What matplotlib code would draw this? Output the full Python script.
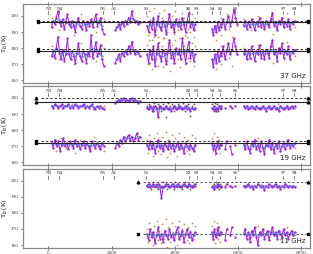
import numpy as np
import pandas as pd
import matplotlib
matplotlib.use("Agg")
import matplotlib.pyplot as plt

# ── station markers along the track ───────────────────────────────────────────
station_names = ["N3", "N4", "N5", "A1", "S1", "S2", "S3", "S4", "S5", "S6", "S7", "S8"]
station_pos = [0, 350, 1720, 2090, 3090, 4440, 4690, 5190, 5440, 5910, 7440, 7780]

# ── segment extents (sample index) ────────────────────────────────────────────
seg_bounds = {
    "A": (100, 1750),
    "B": (2120, 2900),
    "C": (3120, 4650),
    "D": (5180, 5450),
    "D2": (5480, 5980),
    "E": (6180, 7800),
}

nan = np.nan

# ── 37 GHz ────────────────────────────────────────────────────────────────────
tb37_v = {
    "A": [193, 197, 195, 199, 203, 196, 194, 198, 192, 196, 201, 195, 193, 197, 194, 190, 196,
          199, 194, 192, 197, 195, 191, 196, 194, 198, 193, 197, 201, 194, 196, 199, 192, 189],
    "B": [191, 193, 195, 192, 196, 194, 197, 195, 199, 196, 203, 198, 196, 197, 195, 196],
    "C": [194, 190, 197, 192, 199, 188, 195, 200, 193, 191, 197, 194, 189, 196, 201, 193,
          195, 190, 198, 194, 196, 192, 199, 195, 190, 197, 202, 193, 196, 191, 195],
    "D": [192, 188, 194, 190, 196, 191, 195],
    "D2": [193, 198, 192, 196, 200, 194, 197, 204, 199, 195],
    "E": [194, 197, 192, 196, 193, 198, 195, 191, 196, 194, 199, 193, 196, 192, 197, 195, 193,
          198, 202, 194, 196, 191, 197, 195, 199, 193, 196, 194, 198, 192, 196, 195, 197],
}
tb37_h = {
    "A": [175, 178, 174, 180, 187, 177, 173, 179, 172, 176, 186, 176, 173, 178, 175, 171, 177,
          183, 175, 172, 178, 176, 171, 177, 175, 188, 174, 178, 184, 175, 177, 182, 173, 169],
    "B": [171, 173, 176, 172, 177, 175, 178, 176, 181, 177, 184, 179, 176, 178, 177, 175],
    "C": [176, 171, 179, 173, 181, 169, 177, 183, 175, 172, 179, 176, 170, 178, 185, 174,
          177, 171, 180, 176, 178, 173, 186, 177, 171, 179, 184, 174, 178, 172, 176],
    "D": [173, 168, 176, 171, 178, 172, 177],
    "D2": [175, 181, 173, 178, 183, 176, 179, 186, 181, 176],
    "E": [176, 179, 173, 178, 174, 181, 177, 172, 178, 176, 182, 174, 178, 173, 179, 177, 174,
          181, 185, 176, 178, 172, 180, 177, 183, 174, 178, 176, 181, 173, 178, 177, 179],
}
ref37 = {
    "v": {"A": [199, 191, 197, 188, 201, 194, 190, 198],
          "C": [200, 188, 203, 194, 185, 198, 205, 191, 196, 187, 202, 193, 199, 186, 204, 195,
                190, 201, 197, 184, 200, 193, 189, 203, 196, 191, 198, 186, 202, 194, 199, 188,
                205, 192, 197, 190, 201, 195, 187, 199],
          "D": [190, 197, 185, 193, 199],
          "D2": [188, 195, 201, 192, 187, 196, 194],
          "E": [198, 191, 200, 194, 189, 197, 202, 193]},
    "h": {"A": [181, 173, 179, 170, 183, 176, 172, 180],
          "C": [182, 170, 185, 176, 167, 180, 187, 173, 178, 169, 184, 175, 181, 168, 186, 177,
                172, 183, 179, 166, 182, 175, 171, 185, 178, 173, 180, 168, 184, 176, 181, 170,
                187, 174, 179, 172, 183, 177, 169, 181],
          "D": [172, 179, 167, 175, 181],
          "D2": [170, 177, 183, 174, 169, 178, 176],
          "E": [180, 173, 182, 176, 171, 179, 184, 175]},
}

# ── 19 GHz ────────────────────────────────────────────────────────────────────
tb19_v = {
    "A": [195, 194, 196, 195, 194, 195, 196, 194, 195, 195, 196, 194, 195, 194, 196, 195,
          194, 195, 195, 196, 194, 195, 194, 195, 196, 194, 193, 195, 194, 195, 194, 193],
    "B": [197, 198, 199, 198, 199, 200, 198, 199, 198, 199, 200, 198, 199, 198, 197, 198],
    "C": [194, 193, 195, 194, 192, 195, 194, 188, 195, 194, 193, 194, 195, 193, 194, 192,
          194, 195, 193, 194, 195, 194, 193, 194, 195, 193, 194, 192, 194, 193, 194],
    "D": [194, 193, 195, 192, 194, 193, 195, 194],
    "D2": [195, nan, 194, nan, nan, 195, 194, nan, 195, nan],
    "E": [195, 194, 195, 193, 194, 195, 194, 193, 195, 194, 193, 194, 195, 194, 192, 194,
          195, 193, 194, 195, 193, 194, 192, 195, 194, 193, 194, 195, 193, 194, 195, 194, 195],
}
tb19_h = {
    "A": [172, 169, 174, 170, 173, 167, 171, 175, 170, 172, 168, 173, 171, 169, 174, 170,
          172, 168, 171, 173, 169, 172, 170, 167, 173, 171, 169, 172, 170, 168, 172, 170],
    "B": [169, 172, 170, 174, 172, 176, 173, 175, 177, 174, 176, 173, 175, 178, 174, 176],
    "C": [171, 168, 173, 169, 172, 166, 170, 174, 169, 171, 167, 172, 170, 168, 173, 169,
          171, 167, 170, 172, 168, 171, 169, 166, 172, 170, 168, 171, 169, 167, 171],
    "D": [172, 168, 171, 166, 170, 173, 169, 171],
    "D2": [171, nan, 168, 173, nan, 170, 165, nan, 171, nan],
    "E": [171, 168, 173, 169, 166, 172, 170, 174, 168, 171, 167, 173, 169, 165, 171, 170,
          174, 168, 172, 166, 171, 169, 173, 167, 170, 172, 168, 171, 174, 169, 171, 170, 172],
}
ref19 = {
    "v": {"A": [195, 194, 196, 195, 193, 195],
          "C": [195, 193, 196, 194, 192, 195, 197, 194, 193, 196, 195, 192, 194, 196, 193, 188,
                194, 197, 193, 195, 196, 194, 192, 195, 193, 196, 194, 195, 193, 197, 194, 192,
                195, 196, 193, 189, 195, 193, 196, 194],
          "D": [196, 193, 195, 192, 197, 194, 193, 196, 192, 195, 194, 193],
          "E": [195, 194, 196, 194]},
    "h": {"A": [173, 167, 175, 169, 172, 166, 174, 170, 168, 176, 171, 167],
          "C": [174, 166, 177, 169, 172, 164, 175, 170, 178, 167, 173, 165, 176, 171, 168, 179,
                163, 174, 170, 166, 177, 172, 168, 175, 164, 171, 178, 169, 173, 166, 176, 170,
                167, 174, 165, 172, 177, 168, 171, 175],
          "D": [175, 167, 172, 178, 165, 173, 170, 176, 168, 174, 166, 171],
          "E": [173, 168, 175, 170, 172, 167, 174, 169]},
}

# ── 11 GHz ────────────────────────────────────────────────────────────────────
tb11_v = {
    "C": [197, 198, 196, 197, 198, 197, 196, 198, 197, 189, 196, 197, 198, 197, 196, 197,
          198, 196, 197, 198, 197, 196, 197, 198, 197, 196, 198, 197, 196, 197, 198],
    "D": [196, 197, 195, 197, 196, 198, 197, 196],
    "D2": [197, nan, 196, 198, nan, 197, 196, nan, 197, nan],
    "E": [197, 196, 197, 198, 196, 197, 195, 197, 196, 198, 197, 196, 197, 194, 197, 196,
          198, 197, 196, 197, 198, 196, 197, 195, 197, 196, 198, 197, 196, 197, 196, 197, 196],
}
tb11_h = {
    "C": [167, 163, 170, 165, 168, 161, 166, 171, 164, 167, 162, 169, 166, 164, 170, 165,
          167, 163, 168, 171, 164, 166, 169, 162, 167, 170, 165, 168, 163, 166, 168],
    "D": [168, 164, 170, 165, 167, 171, 166, 168],
    "D2": [167, nan, 163, 170, nan, 166, 171, nan, 165, nan],
    "E": [167, 170, 164, 168, 162, 169, 166, 171, 165, 160, 168, 166, 170, 164, 167, 169,
          163, 168, 171, 166, 168, 164, 169, 167, 165, 170, 166, 168, 164, 167, 169, 166, 168],
}
ref11 = {
    "v": {"C": [197, 196, 198, 195, 197, 199, 196, 198, 197, 195, 198, 196, 197, 199, 196, 197,
                195, 198, 197, 196, 198, 197, 195, 199, 196, 198, 197, 196, 195, 198, 197, 199,
                196, 197, 198, 195, 197, 196, 198, 197],
          "D": [197, 196, 198, 195, 197, 199, 196, 198, 197, 195, 198, 196],
          "E": [197, 198, 196, 197]},
    "h": {"C": [170, 162, 174, 165, 168, 160, 172, 166, 175, 163, 169, 161, 173, 167, 164, 176,
                159, 171, 166, 162, 174, 168, 164, 172, 160, 167, 175, 165, 170, 162, 173, 166,
                163, 171, 161, 169, 174, 164, 167, 172],
          "D": [172, 163, 169, 175, 161, 170, 166, 174, 164, 171, 162, 168],
          "E": [170, 165, 172, 167, 169, 164, 171, 166]},
}

# ── reference levels: (solid, dashed) for each polarisation ──────────────────
levels37 = {"v": (196.0, 196.8), "h": (178.0, 179.5)}
levels19 = {"v": (197.6, 199.7), "h": (172.1, 173.1)}
levels11 = {"v": (None, 199.2), "h": (None, 167.0)}

panels = [
    ("37 GHz", tb37_v, tb37_h, ref37, levels37, (-340, 8220), "s"),
    ("19 GHz", tb19_v, tb19_h, ref19, levels19, (-400, 8220), "^"),
    ("11 GHz", tb11_v, tb11_h, ref11, levels11, (2850, 8220), "^"),
]

PURPLE = "#9a1ee6"
BLUE = "#4f8ae8"
BROWN = "#b08440"
DARK_BROWN = "#4a3620"
SERIF = "Liberation Serif"

fig = plt.figure(figsize=(3.13, 2.54), dpi=100)
boxes = [[0.072, 0.673, 0.918, 0.311],
         [0.072, 0.350, 0.918, 0.311],
         [0.072, 0.024, 0.918, 0.311]]

for i, (label, tb_v, tb_h, ref, levels, xends, vmark) in enumerate(panels):
    ax = fig.add_axes(boxes[i])

    # brown reference dots
    for pol, data in ref.items():
        for seg, vals in data.items():
            lo, hi = seg_bounds[seg]
            xs = np.linspace(lo, hi, len(vals))
            col = DARK_BROWN if (pol == "v" and i > 0 and seg in ("C", "D")) else BROWN
            ax.plot(xs, vals, ".", color=col, ms=2.6, mew=0, alpha=0.85, zorder=2)

    # purple raw series + blue smoothed series
    for data in (tb_v, tb_h):
        for seg, vals in data.items():
            lo, hi = seg_bounds[seg]
            xs = np.linspace(lo, hi, len(vals))
            ax.plot(xs, vals, "-", color=PURPLE, lw=0.7, marker=".", ms=1.4, zorder=3)
            smooth = pd.Series(vals).rolling(5, center=True, min_periods=1).mean()
            if seg != "D2":
                ax.plot(xs, smooth, "-", color=BLUE, lw=0.7, alpha=0.85, zorder=4)

    # reference levels with end markers
    for pol, (solid, dashed) in levels.items():
        mk = vmark if pol == "v" else "s"
        if solid is not None:
            ax.plot(xends, [solid, solid], "-", color="#222222", lw=0.8, zorder=5)
            ax.plot(xends, [solid, solid], mk, color="black", ms=1.9, zorder=6)
        ax.plot([xends[0] + 150, xends[1]], [dashed, dashed], "--",
                color="#333333" if i < 2 else "#555555",
                lw=0.7, dashes=(2.5, 2), zorder=5)
        ax.plot(xends, [dashed, dashed], mk, color="black", ms=1.9, zorder=6)

    # station labels
    for name, pos in zip(station_names, station_pos):
        ax.text(pos, 204.6, name, ha="center", va="center", fontsize=3.6,
                family=SERIF, color="#222222")
        ax.plot([pos, pos], [201.4, 202.8], "-", color="#222222", lw=0.4)

    ax.text(0.985, 0.09, label, transform=ax.transAxes, ha="right", va="center",
            fontsize=5, color="#222222")

    ax.set_xlim(-820, 8280)
    ax.set_ylim(158.2, 207.4)
    ax.set_yticks([160, 170, 180, 190, 200])
    ax.set_xticks([0, 2000, 4000, 6000, 8000])
    ax.tick_params(axis="both", labelsize=3.8, length=1.8, width=0.5, pad=1,
                   colors="#444444")
    ax.tick_params(axis="x", top=True, direction="inout", length=2.5)
    for t in ax.get_yticklabels() + ax.get_xticklabels():
        t.set_family(SERIF)
    if i < 2:
        ax.tick_params(axis="x", labelbottom=False)
    ax.set_ylabel("T$_b$ (K)", fontsize=4.8, labelpad=1, family=SERIF)
    for s in ax.spines.values():
        s.set_color("#888888")
        s.set_linewidth(0.9)

fig.savefig("out.png", dpi=100)
